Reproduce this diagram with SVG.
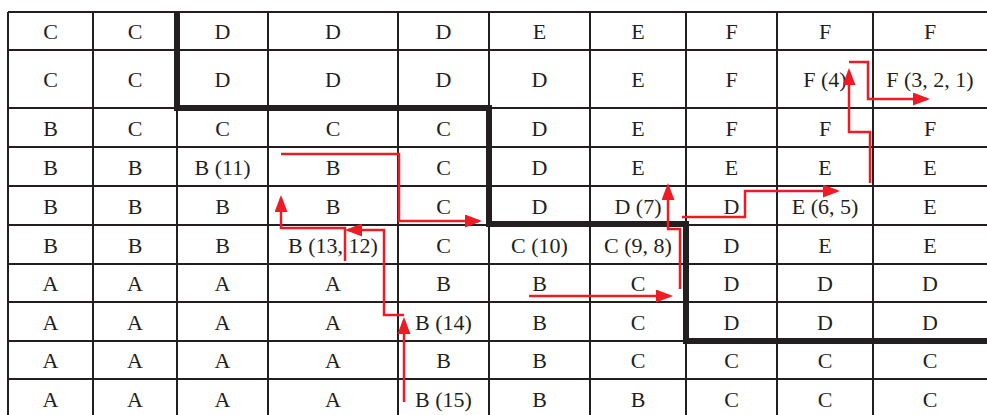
<svg xmlns="http://www.w3.org/2000/svg" width="987" height="415" viewBox="0 0 987 415">
<style>
  .grid line { stroke: #231f20; stroke-width: 2; }
  .bound { fill: none; stroke: #231f20; stroke-width: 6; stroke-linejoin: miter; }
  .arrow { fill: none; stroke: #ed1c24; stroke-width: 2.5; marker-end: url(#ah); }
  text { font-family: "Liberation Serif", "Times New Roman", serif; font-size: 22px; fill: #231f20; text-anchor: middle; }
</style>
<defs>
  <marker id="ah" viewBox="0 0 17 13" markerUnits="userSpaceOnUse" markerWidth="17" markerHeight="13" refX="14" refY="6.5" orient="auto">
    <path d="M0,0 L17,6.5 L0,13 z" fill="#ed1c24"/>
  </marker>
</defs>
<rect width="987" height="415" fill="#ffffff"/>
<g id="grid" class="grid">
  <line x1="8" y1="12" x2="987" y2="12"/>
  <line x1="8" y1="50" x2="987" y2="50"/>
  <line x1="8" y1="108" x2="987" y2="108"/>
  <line x1="8" y1="147" x2="987" y2="147"/>
  <line x1="8" y1="186" x2="987" y2="186"/>
  <line x1="8" y1="225" x2="987" y2="225"/>
  <line x1="8" y1="264" x2="987" y2="264"/>
  <line x1="8" y1="302" x2="987" y2="302"/>
  <line x1="8" y1="341" x2="987" y2="341"/>
  <line x1="8" y1="379" x2="987" y2="379"/>
  <line x1="8" y1="12" x2="8" y2="415"/>
  <line x1="93" y1="12" x2="93" y2="415"/>
  <line x1="177" y1="12" x2="177" y2="415"/>
  <line x1="268" y1="12" x2="268" y2="415"/>
  <line x1="398" y1="12" x2="398" y2="415"/>
  <line x1="489" y1="12" x2="489" y2="415"/>
  <line x1="590" y1="12" x2="590" y2="415"/>
  <line x1="686" y1="12" x2="686" y2="415"/>
  <line x1="777" y1="12" x2="777" y2="415"/>
  <line x1="873" y1="12" x2="873" y2="415"/>
</g>
<g id="boundary">
  <path class="bound" d="M177,12 V108 H489 V224 H686 V341 H990"/>
</g>
<g id="row1">
  <text x="50.5" y="39">C</text><text x="135" y="39">C</text><text x="222.5" y="39">D</text><text x="333" y="39">D</text><text x="443.5" y="39">D</text><text x="539.5" y="39">E</text><text x="638" y="39">E</text><text x="731.5" y="39">F</text><text x="825" y="39">F</text><text x="930" y="39">F</text>
</g>
<g id="row2">
  <text x="50.5" y="87">C</text><text x="135" y="87">C</text><text x="222.5" y="87">D</text><text x="333" y="87">D</text><text x="443.5" y="87">D</text><text x="539.5" y="87">D</text><text x="638" y="87">E</text><text x="731.5" y="87">F</text><text x="825" y="87">F (4)</text><text x="930" y="87">F (3, 2, 1)</text>
</g>
<g id="row3">
  <text x="50.5" y="135.5">B</text><text x="135" y="135.5">C</text><text x="222.5" y="135.5">C</text><text x="333" y="135.5">C</text><text x="443.5" y="135.5">C</text><text x="539.5" y="135.5">D</text><text x="638" y="135.5">E</text><text x="731.5" y="135.5">F</text><text x="825" y="135.5">F</text><text x="930" y="135.5">F</text>
</g>
<g id="row4">
  <text x="50.5" y="174.5">B</text><text x="135" y="174.5">B</text><text x="222.5" y="174.5">B (11)</text><text x="333" y="174.5">B</text><text x="443.5" y="174.5">C</text><text x="539.5" y="174.5">D</text><text x="638" y="174.5">E</text><text x="731.5" y="174.5">E</text><text x="825" y="174.5">E</text><text x="930" y="174.5">E</text>
</g>
<g id="row5">
  <text x="50.5" y="213.5">B</text><text x="135" y="213.5">B</text><text x="222.5" y="213.5">B</text><text x="333" y="213.5">B</text><text x="443.5" y="213.5">C</text><text x="539.5" y="213.5">D</text><text x="638" y="213.5">D (7)</text><text x="731.5" y="213.5">D</text><text x="825" y="213.5">E (6, 5)</text><text x="930" y="213.5">E</text>
</g>
<g id="row6">
  <text x="50.5" y="252.5">B</text><text x="135" y="252.5">B</text><text x="222.5" y="252.5">B</text><text x="333" y="252.5">B (13, 12)</text><text x="443.5" y="252.5">C</text><text x="539.5" y="252.5">C (10)</text><text x="638" y="252.5">C (9, 8)</text><text x="731.5" y="252.5">D</text><text x="825" y="252.5">E</text><text x="930" y="252.5">E</text>
</g>
<g id="row7">
  <text x="50.5" y="291">A</text><text x="135" y="291">A</text><text x="222.5" y="291">A</text><text x="333" y="291">A</text><text x="443.5" y="291">B</text><text x="539.5" y="291">B</text><text x="638" y="291">C</text><text x="731.5" y="291">D</text><text x="825" y="291">D</text><text x="930" y="291">D</text>
</g>
<g id="row8">
  <text x="50.5" y="330">A</text><text x="135" y="330">A</text><text x="222.5" y="330">A</text><text x="333" y="330">A</text><text x="443.5" y="330">B (14)</text><text x="539.5" y="330">B</text><text x="638" y="330">C</text><text x="731.5" y="330">D</text><text x="825" y="330">D</text><text x="930" y="330">D</text>
</g>
<g id="row9">
  <text x="50.5" y="368">A</text><text x="135" y="368">A</text><text x="222.5" y="368">A</text><text x="333" y="368">A</text><text x="443.5" y="368">B</text><text x="539.5" y="368">B</text><text x="638" y="368">C</text><text x="731.5" y="368">C</text><text x="825" y="368">C</text><text x="930" y="368">C</text>
</g>
<g id="row10">
  <text x="50.5" y="406.5">A</text><text x="135" y="406.5">A</text><text x="222.5" y="406.5">A</text><text x="333" y="406.5">A</text><text x="443.5" y="406.5">B (15)</text><text x="539.5" y="406.5">B</text><text x="638" y="406.5">B</text><text x="731.5" y="406.5">C</text><text x="825" y="406.5">C</text><text x="930" y="406.5">C</text>
</g>
<g id="connectors">
  <path class="arrow" d="M404,402 V320"/>
  <path class="arrow" d="M404,315 H384 V230 H348"/>
  <path class="arrow" d="M345,261 V228 H281 V198"/>
  <path class="arrow" d="M281,154 H399 V221 H479"/>
  <path class="arrow" d="M529,296 H670"/>
  <path class="arrow" d="M680,289 V229 H668 V186"/>
  <path class="arrow" d="M682,217 H745 V191 H837"/>
  <path class="arrow" d="M870,183 V132 H849 V71"/>
  <path class="arrow" d="M849,62 H868 V99 H927"/>
</g>
</svg>
